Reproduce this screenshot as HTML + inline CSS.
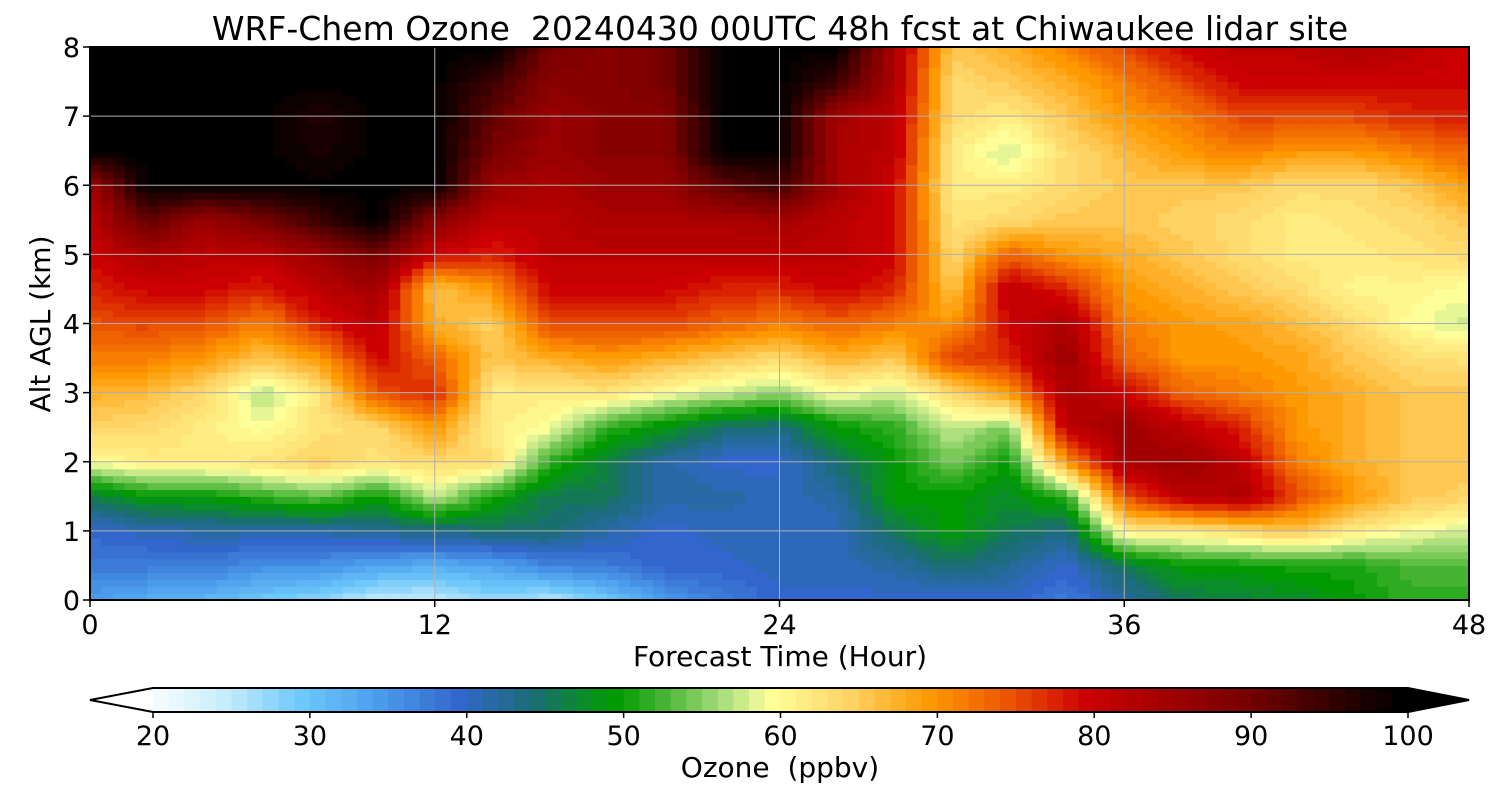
<!DOCTYPE html>
<html><head><meta charset="utf-8"><style>
html,body{margin:0;padding:0;background:#fff;}
svg{display:block;font-family:"DejaVu Sans","Liberation Sans",sans-serif;}
text{white-space:pre;}
</style></head><body>
<svg id="chart" width="1500" height="800" viewBox="0 0 1500 800">
<text x="780" y="40" font-size="33" text-anchor="middle">WRF-Chem Ozone  20240430 00UTC 48h fcst at Chiwaukee lidar site</text>
<g id="plot"></g>
<g id="grid"></g>
<rect x="90" y="47" width="1379" height="553" fill="none" stroke="#000" stroke-width="2"/>
<g id="xticks"></g>
<g id="yticks"></g>
<text x="780" y="666" font-size="28" text-anchor="middle">Forecast Time (Hour)</text>
<text transform="translate(50,324) rotate(-90)" font-size="28" text-anchor="middle">Alt AGL (km)</text>
<g id="cbar"></g>
<text x="780" y="777" font-size="28" text-anchor="middle">Ozone  (ppbv)</text>
</svg>
<script>
const times=[0,2,4,6,8,10,12,14,16,18,20,22,24,26,28,30,32,34,36,38,40,42,44,46,48];
const alts=[0,0.5,1,1.5,2,2.5,3,3.5,4,4.5,5,5.5,6,6.5,7,7.5,8];
const ozone=[
[35,38,40,46,60,65,68,72,75,78,80,82,85,100,100,100,100],
[33,38,41,50,62,64,67,72,76,80,84,92,100,100,100,100,100],
[32,38,42,50,62,62,64,70,75,80,82,86,100,100,100,100,100],
[30,36,42,52,63,60,57,66,72,78,82,90,100,100,100,100,100],
[28,36,42,54,65,63,63,70,78,82,86,95,100,98,97,100,100],
[25,34,43,50,63,64,75,80,82,85,90,100,100,100,100,100,100],
[25,33,44,58,64,70,78,74,68,66,80,88,100,100,100,100,100],
[28,34,45,51,64,62,62,66,65,70,78,82,86,90,92,95,100],
[26,37,45,46,52,60,62,68,76,80,82,82,84,86,86,88,90],
[30,38,42,46,47,52,63,70,76,80,82,84,86,88,88,88,88],
[35,40,40,42,42,49,60,68,76,80,82,84,86,88,88,90,90],
[38,40,41,42,40,45,58,66,74,78,82,84,92,100,100,100,100],
[40,41,41,41,40,44,56,64,72,78,82,85,95,100,100,100,100],
[40,41,41,42,45,50,60,68,74,80,82,82,85,84,85,95,100],
[40,42,46,50,50,52,58,66,72,78,80,80,80,82,82,84,84],
[40,45,50,50,55,58,64,76,70,66,64,63,62,62,64,64,66],
[40,43,46,48,50,55,70,78,80,82,74,64,62,58,62,66,68],
[38,40,44,52,70,82,84,86,84,78,70,66,64,64,66,68,72],
[42,46,62,75,84,86,80,74,72,70,68,66,66,67,70,72,76],
[46,50,62,82,86,82,74,70,70,68,66,65,66,70,72,76,80],
[47,50,64,84,82,78,72,70,69,66,64,64,66,72,76,80,82],
[48,51,66,76,72,70,70,69,67,64,62,62,64,70,76,80,82],
[50,51,62,70,68,68,68,66,64,61,62,63,64,70,76,80,84],
[52,53,60,66,66,66,66,64,60,61,63,64,66,72,78,80,82],
[52,53,58,65,66,66,66,63,58,60,64,66,70,74,78,80,80]];
const cbTicks=[20,30,40,50,60,70,80,90,100];
const xTickVals=[0,12,24,36,48];
const yTickVals=[0,1,2,3,4,5,6,7,8];

const X0=90,X1=1469,Y0=600,Y1=47;
const xs=t=>X0+(t/48)*(X1-X0);
const ys=z=>Y0-(z/8)*(Y0-Y1);
const stops=[[20,[255,255,255]],[25,[200,236,252]],[30,[110,200,250]],[35,[75,155,235]],[40,[51,102,204]],[45,[25,110,110]],[48,[10,140,40]],[50,[0,153,0]],[53,[70,180,50]],[57,[175,224,128]],[59,[230,245,150]],[60,[255,255,153]],[65,[255,210,100]],[70,[255,153,0]],[75,[235,85,0]],[80,[204,0,0]],[90,[120,0,0]],[100,[0,0,0]]];
function color(v){
  v=Math.round(Math.max(20,Math.min(100,v)));
  for(let i=0;i<stops.length-1;i++){
    const [a,ca]=stops[i],[b,cb]=stops[i+1];
    if(v<=b){const f=(v-a)/(b-a);return 'rgb('+ca.map((c,k)=>Math.round(c+(cb[k]-c)*f)).join(',')+')';}
  }
  return 'rgb(0,0,0)';
}
const NS='http://www.w3.org/2000/svg';
function mk(tag,attrs,parent){const e=document.createElementNS(NS,tag);for(const k in attrs)e.setAttribute(k,attrs[k]);parent.appendChild(e);return e;}
const plot=document.getElementById('plot');
const S=5;
for(let i=0;i<times.length-1;i++){
  for(let j=0;j<alts.length-1;j++){
    const v00=ozone[i][j],v10=ozone[i+1][j],v01=ozone[i][j+1],v11=ozone[i+1][j+1];
    const tx0=xs(times[i]),tx1=xs(times[i+1]),ty0=ys(alts[j]),ty1=ys(alts[j+1]);
    const w=(tx1-tx0)/S,h=(ty0-ty1)/S;
    for(let a=0;a<S;a++)for(let b=0;b<S;b++){
      const fx=(a+0.5)/S,fy=(b+0.5)/S;
      const v=v00*(1-fx)*(1-fy)+v10*fx*(1-fy)+v01*(1-fx)*fy+v11*fx*fy;
      const r=mk('rect',{x:(tx0+a*w).toFixed(2),y:(ty0-(b+1)*h).toFixed(2),width:(w+0.6).toFixed(2),height:(h+0.6).toFixed(2),fill:color(v)},plot);
      
      
    }
  }
}
const grid=document.getElementById('grid');
xTickVals.forEach(t=>{
  const l=mk('line',{x1:xs(t),x2:xs(t),y1:Y1,y2:Y0,stroke:'#b0b0b0','stroke-width':1},grid);
  
  
  const tk=mk('line',{x1:xs(t),x2:xs(t),y1:Y0,y2:Y0+7,stroke:'#000','stroke-width':1.5},document.getElementById('xticks'));
  
  
  const tx=mk('text',{x:xs(t),y:Y0+34,'font-size':27,'text-anchor':'middle'},document.getElementById('xticks'));
  tx.textContent=t;
  
  
});
yTickVals.forEach(z=>{
  const l=mk('line',{x1:X0,x2:X1,y1:ys(z),y2:ys(z),stroke:'#b0b0b0','stroke-width':1},grid);
  
  
  const tk=mk('line',{x1:X0-7,x2:X0,y1:ys(z),y2:ys(z),stroke:'#000','stroke-width':1.5},document.getElementById('yticks'));
  
  
  const tx=mk('text',{x:X0-10,y:ys(z)+10,'font-size':27,'text-anchor':'end'},document.getElementById('yticks'));
  tx.textContent=z;
  
  
});
const cb=document.getElementById('cbar');
const C0=153,C1=1408,CT=688,CB=712;
const cx=v=>C0+(v-20)/80*(C1-C0);
mk('polygon',{points:`${C0},${CT} 90,${(CT+CB)/2} ${C0},${CB}`,fill:'#fff'},cb);
mk('polygon',{points:`${C1},${CT} 1469,${(CT+CB)/2} ${C1},${CB}`,fill:'#000'},cb);
for(let v=20;v<100;v++){
  const r=mk('rect',{x:cx(v),y:CT,width:(cx(v+1)-cx(v)+0.5),height:CB-CT,fill:color(v+0.5)},cb);
  
  
}
mk('polygon',{points:`90,${(CT+CB)/2} ${C0},${CT} ${C1},${CT} 1469,${(CT+CB)/2} ${C1},${CB} ${C0},${CB}`,fill:'none',stroke:'#000','stroke-width':2},cb);
cbTicks.forEach(v=>{
  const tk=mk('line',{x1:cx(v),x2:cx(v),y1:CB,y2:CB+6,stroke:'#000','stroke-width':1.5},cb);
  
  
  const tx=mk('text',{x:cx(v),y:CB+33,'font-size':27,'text-anchor':'middle'},cb);
  tx.textContent=v;
  
  
});
</script>
</body></html>
